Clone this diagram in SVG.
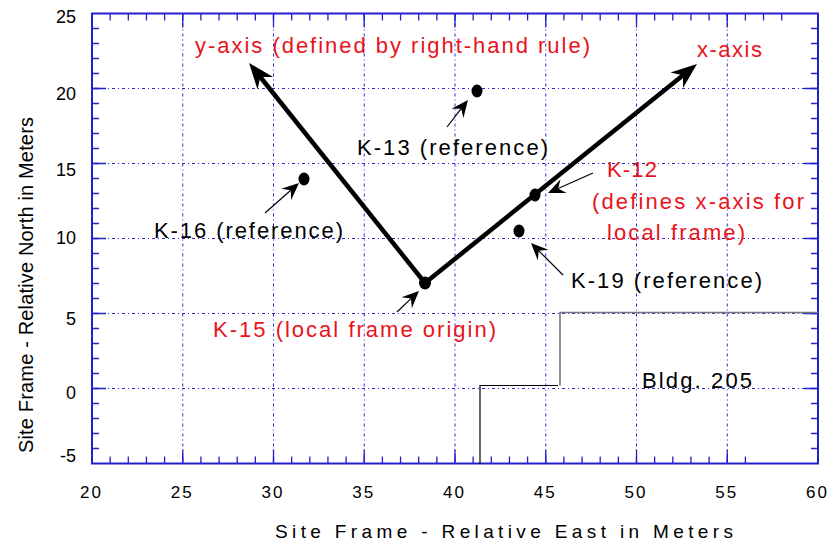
<svg xmlns="http://www.w3.org/2000/svg" width="830" height="545" viewBox="0 0 830 545">
<style>
text{font-family:"Liberation Sans",Arial,sans-serif;}
.xt{fill:#000;font-size:17px;letter-spacing:2px;text-anchor:middle;}
.yt{fill:#000;font-size:18px;text-anchor:end;}
.title{fill:#000;font-size:19px;}
.ytitle{fill:#000;font-size:20px;}
.lbl{font-size:22px;fill:#000;}
.red{fill:#e8121b;}
.grid{stroke:#2828d8;stroke-width:1;stroke-dasharray:3 3 1 3;fill:none;}
.frame{stroke:#2222cc;stroke-width:2;fill:none;}
.ticks{stroke:#2222cc;stroke-width:1.3;fill:none;}
.axis{stroke:#000;stroke-width:4.5;fill:none;marker-end:url(#big);}
.ptr{stroke:#000;stroke-width:1.2;fill:none;marker-end:url(#small);}
.pt{fill:#000;}
</style>
<defs>
<marker id="big" markerUnits="userSpaceOnUse" viewBox="-9 -11 28 22" markerWidth="28" markerHeight="22" refX="0" refY="0" orient="auto"><path d="M18,0 L-8,-10 L0,0 L-8,10 Z" fill="#000"/></marker>
<marker id="small" markerUnits="userSpaceOnUse" viewBox="-7 -8 19 16" markerWidth="19" markerHeight="16" refX="0" refY="0" orient="auto"><path d="M11,0 L-6,-7.5 L0,0 L-6,7.5 Z" fill="#000"/></marker>
</defs>
<rect width="830" height="545" fill="#fff"/>
<g id="plot-frame">
<g class="grid">
<path d="M182.75,13.5V463.5M273.5,13.5V463.5M364.25,13.5V463.5M455,13.5V463.5M545.75,13.5V463.5M636.5,13.5V463.5M727.25,13.5V463.5"/>
<path d="M92,88.5H818M92,163.5H818M92,238.5H818M92,313.5H818M92,388.5H818"/>
</g>
<g class="ticks">
<path d="M92,463.5m18.15,0v-7m0,7m18.15,0v-7m0,7m18.15,0v-7m0,7m18.15,0v-7m0,7m18.15,0v-7m0,7m18.15,0v-7m0,7m18.15,0v-7m0,7m18.15,0v-7m0,7m18.15,0v-7m0,7m18.15,0v-7m0,7m18.15,0v-7m0,7m18.15,0v-7m0,7m18.15,0v-7m0,7m18.15,0v-7m0,7m18.15,0v-7m0,7m18.15,0v-7m0,7m18.15,0v-7m0,7m18.15,0v-7m0,7m18.15,0v-7m0,7m18.15,0v-7m0,7m18.15,0v-7m0,7m18.15,0v-7m0,7m18.15,0v-7m0,7m18.15,0v-7m0,7m18.15,0v-7m0,7m18.15,0v-7m0,7m18.15,0v-7m0,7m18.15,0v-7m0,7m18.15,0v-7m0,7m18.15,0v-7m0,7m18.15,0v-7m0,7m18.15,0v-7m0,7m18.15,0v-7m0,7m18.15,0v-7m0,7m18.15,0v-7m0,7m18.15,0v-7m0,7"/>
<path d="M92,13.5m18.15,0v7m0,-7m18.15,0v7m0,-7m18.15,0v7m0,-7m18.15,0v7m0,-7m18.15,0v7m0,-7m18.15,0v7m0,-7m18.15,0v7m0,-7m18.15,0v7m0,-7m18.15,0v7m0,-7m18.15,0v7m0,-7m18.15,0v7m0,-7m18.15,0v7m0,-7m18.15,0v7m0,-7m18.15,0v7m0,-7m18.15,0v7m0,-7m18.15,0v7m0,-7m18.15,0v7m0,-7m18.15,0v7m0,-7m18.15,0v7m0,-7m18.15,0v7m0,-7m18.15,0v7m0,-7m18.15,0v7m0,-7m18.15,0v7m0,-7m18.15,0v7m0,-7m18.15,0v7m0,-7m18.15,0v7m0,-7m18.15,0v7m0,-7m18.15,0v7m0,-7m18.15,0v7m0,-7m18.15,0v7m0,-7m18.15,0v7m0,-7m18.15,0v7m0,-7m18.15,0v7m0,-7m18.15,0v7m0,-7m18.15,0v7m0,-7m18.15,0v7m0,-7m18.15,0v7m0,-7m18.15,0v7m0,-7"/>
<path d="M92,463.5m0,-15h7m-7,0m0,-15h7m-7,0m0,-15h7m-7,0m0,-15h7m-7,0m0,-15h7m-7,0m0,-15h7m-7,0m0,-15h7m-7,0m0,-15h7m-7,0m0,-15h7m-7,0m0,-15h7m-7,0m0,-15h7m-7,0m0,-15h7m-7,0m0,-15h7m-7,0m0,-15h7m-7,0m0,-15h7m-7,0m0,-15h7m-7,0m0,-15h7m-7,0m0,-15h7m-7,0m0,-15h7m-7,0m0,-15h7m-7,0m0,-15h7m-7,0m0,-15h7m-7,0m0,-15h7m-7,0m0,-15h7m-7,0m0,-15h7m-7,0m0,-15h7m-7,0m0,-15h7m-7,0m0,-15h7m-7,0m0,-15h7m-7,0"/>
<path d="M818,463.5m0,-15h-7m7,0m0,-15h-7m7,0m0,-15h-7m7,0m0,-15h-7m7,0m0,-15h-7m7,0m0,-15h-7m7,0m0,-15h-7m7,0m0,-15h-7m7,0m0,-15h-7m7,0m0,-15h-7m7,0m0,-15h-7m7,0m0,-15h-7m7,0m0,-15h-7m7,0m0,-15h-7m7,0m0,-15h-7m7,0m0,-15h-7m7,0m0,-15h-7m7,0m0,-15h-7m7,0m0,-15h-7m7,0m0,-15h-7m7,0m0,-15h-7m7,0m0,-15h-7m7,0m0,-15h-7m7,0m0,-15h-7m7,0m0,-15h-7m7,0m0,-15h-7m7,0m0,-15h-7m7,0m0,-15h-7m7,0m0,-15h-7m7,0"/>
<path d="M92,463.5m90.75,0v-14m0,14m90.75,0v-14m0,14m90.75,0v-14m0,14m90.75,0v-14m0,14m90.75,0v-14m0,14m90.75,0v-14m0,14m90.75,0v-14m0,14"/>
<path d="M92,13.5m90.75,0v14m0,-14m90.75,0v14m0,-14m90.75,0v14m0,-14m90.75,0v14m0,-14m90.75,0v14m0,-14m90.75,0v14m0,-14m90.75,0v14m0,-14"/>
<path d="M92,463.5m0,-75h14m-14,0m0,-75h14m-14,0m0,-75h14m-14,0m0,-75h14m-14,0m0,-75h14m-14,0"/>
<path d="M818,463.5m0,-75h-14m14,0m0,-75h-14m14,0m0,-75h-14m14,0m0,-75h-14m14,0m0,-75h-14m14,0"/>
</g>
<rect class="frame" x="92" y="13.5" width="726" height="450"/>
<g class="yt">
<text x="76" y="23">25</text>
<text x="76" y="100">20</text>
<text x="76" y="176">15</text>
<text x="76" y="244">10</text>
<text x="76" y="325">5</text>
<text x="76" y="399">0</text>
<text x="76" y="462">-5</text>
</g>
<g class="xt">
<text x="91.5" y="498">20</text>
<text x="182.25" y="498">25</text>
<text x="273" y="498">30</text>
<text x="363.75" y="498">35</text>
<text x="454.5" y="498">40</text>
<text x="545.25" y="498">45</text>
<text x="636" y="498">50</text>
<text x="726.75" y="498">55</text>
<text x="817.5" y="498">60</text>
</g>
<text class="title" x="275" y="538" textLength="458" lengthAdjust="spacing">Site Frame - Relative East in Meters</text>
<text class="ytitle" transform="translate(33,453) rotate(-90)" x="0" y="0" textLength="336" lengthAdjust="spacing">Site Frame - Relative North in Meters</text>
</g>
<g id="building">
<polyline points="480,464 480,385.5 558,385.5" fill="none" stroke="#000" stroke-width="1.2"/>
<polyline points="560,385.5 560,312.5 818,312.5" fill="none" stroke="#777" stroke-width="1.6"/>
<text class="lbl" x="642" y="388" textLength="110" lengthAdjust="spacing">Bldg. 205</text>
</g>
<g id="connectors">
<line class="axis" x1="425" y1="283" x2="683" y2="75.2"/>
<line class="axis" x1="425" y1="283" x2="260.3" y2="77"/>
<line class="ptr" x1="397" y1="312" x2="411" y2="298.6"/>
<line class="ptr" x1="593" y1="173" x2="558.1" y2="188.5"/>
<line class="ptr" x1="563" y1="275" x2="538.8" y2="250.8"/>
<line class="ptr" x1="265" y1="213" x2="290.75" y2="190.3"/>
<line class="ptr" x1="447" y1="127" x2="461.2" y2="108.7"/>
</g>
<g id="x-axis-label"><text class="lbl red" x="697" y="57" textLength="65" lengthAdjust="spacing">x-axis</text></g>
<g id="y-axis-label"><text class="lbl red" x="195" y="53" textLength="395" lengthAdjust="spacing">y-axis (defined by right-hand rule)</text></g>
<g id="K-13">
<ellipse class="pt" cx="477" cy="91" rx="5.5" ry="6.5"/>
<text class="lbl" x="357" y="155" textLength="191" lengthAdjust="spacing">K-13 (reference)</text>
</g>
<g id="K-16">
<ellipse class="pt" cx="304" cy="179" rx="5.5" ry="6.5"/>
<text class="lbl" x="154" y="238" textLength="189" lengthAdjust="spacing">K-16 (reference)</text>
</g>
<g id="K-12">
<ellipse class="pt" cx="535" cy="195" rx="5.5" ry="6.5"/>
<text class="lbl red" x="607" y="177" textLength="50" lengthAdjust="spacing">K-12</text>
<text class="lbl red" x="592" y="209" textLength="212" lengthAdjust="spacing">(defines x-axis for</text>
<text class="lbl red" x="607" y="240" textLength="138" lengthAdjust="spacing">local frame)</text>
</g>
<g id="K-19">
<ellipse class="pt" cx="519" cy="231" rx="5.5" ry="6.5"/>
<text class="lbl" x="571" y="288" textLength="191" lengthAdjust="spacing">K-19 (reference)</text>
</g>
<g id="K-15">
<ellipse class="pt" cx="425" cy="283" rx="6" ry="6.5"/>
<text class="lbl red" x="213" y="337" textLength="283" lengthAdjust="spacing">K-15 (local frame origin)</text>
</g>
</svg>
